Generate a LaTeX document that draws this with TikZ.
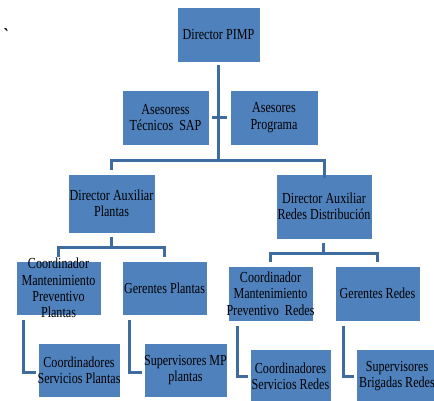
\documentclass[tikz,border=0pt]{standalone}
\usepackage{fontspec}
\setmainfont[FakeStretch=0.79]{Liberation Serif}
\definecolor{boxfill}{HTML}{4F81BD}
\definecolor{linecol}{HTML}{3E6C9E}
\begin{document}
\begin{tikzpicture}[x=1pt,y=-1pt,
  box/.style={rectangle, fill=boxfill, draw=white, line width=0.6pt, inner sep=0pt},
  txt/.style={align=center, inner sep=0pt, text=black, font=\fontsize{15.3}{16.3}\selectfont},
  conn/.style={draw=linecol, line width=3pt}]
\useasboundingbox (0,0) rectangle (434,400);
\begin{scope}
\clip (0,0) rectangle (434,400);
% boxes
\node[box, minimum width=83, minimum height=55] (dp) at (218.5,34.5) {};
\node[box, minimum width=87, minimum height=55] (ats) at (165.5,117.5) {};
\node[box, minimum width=88, minimum height=55] (ap) at (274,117.5) {};
\node[box, minimum width=87, minimum height=59] (dap) at (111.5,203.5) {};
\node[box, minimum width=96, minimum height=65] (dar) at (324,206.5) {};
\node[box, minimum width=85, minimum height=54] (cmpp) at (58.5,288) {};
\node[box, minimum width=85, minimum height=54] (gp) at (164.5,288) {};
\node[box, minimum width=85, minimum height=55] (cmpr) at (270.5,293.5) {};
\node[box, minimum width=85, minimum height=55] (gr) at (377.5,293.5) {};
\node[box, minimum width=82, minimum height=54] (csp) at (79,370) {};
\node[box, minimum width=83, minimum height=54] (smp) at (185.5,370) {};
\node[box, minimum width=81, minimum height=54] (csr) at (290.5,376) {};
\node[box, minimum width=82, minimum height=54] (sbr) at (397,376) {};
% texts
\node[txt] (dp-t) at (dp) {Director PIMP};
\node[txt] (ats-t) at (ats) {Asesoress\\Técnicos\ \ SAP};
\node[txt] (ap-t) at (ap) {Asesores\\Programa};
\node[txt] (dap-t) at (dap) {Director Auxiliar\\Plantas};
\node[txt] (dar-t) at (dar) {Director Auxiliar\\Redes Distribución};
\node[txt] (cmpp-t) at (cmpp) {Coordinador\\Mantenimiento\\Preventivo\\Plantas};
\node[txt] (gp-t) at (gp) {Gerentes Plantas};
\node[txt] (cmpr-t) at (cmpr) {Coordinador\\Mantenimiento\\Preventivo\ \ Redes};
\node[txt] (gr-t) at (gr) {Gerentes Redes};
\node[txt] (csp-t) at (csp) {Coordinadores\\Servicios Plantas};
\node[txt] (smp-t) at (smp) {Supervisores MP\\plantas};
\node[txt] (csr-t) at (csr) {Coordinadores\\Servicios Redes};
\node[txt] (sbr-t) at (sbr) {Supervisores\\Brigadas Redes};
\node[txt, font=\fontsize{20}{20}\selectfont\bfseries] (tick) at (7,36) {\textasciigrave};
% connectors
\coordinate (bus) at (218.5,160);
\draw[conn] ([yshift=-3]dp.south) -- (bus);
\draw[conn] ([xshift=3]ats.east) -- ([xshift=-3]ap.west);
\draw[conn] (dap.north) ++(0,-4) |- (bus) -| ([yshift=-4]dar.north);
\draw[conn] ([yshift=-4]dap.south) -- ++(0,10) coordinate (b1);
\draw[conn] ([yshift=4]cmpp.north) |- (b1) -| ([yshift=4]gp.north);
\draw[conn] ([xshift=-1,yshift=-4]dar.south) -- ++(0,10) coordinate (b2);
\draw[conn] ([yshift=4]cmpr.north) |- (b2) -| ([yshift=4]gr.north);
\draw[conn] ([xshift=8,yshift=-5]cmpp.south west) |- ([xshift=-2,yshift=-2]csp.west);
\draw[conn] ([xshift=8,yshift=-5]gp.south west) |- ([xshift=-2,yshift=-2]smp.west);
\draw[conn] ([xshift=10,yshift=-5]cmpr.south west) |- ([xshift=-2]csr.west);
\draw[conn] ([xshift=9,yshift=-5]gr.south west) |- ([xshift=-2]sbr.west);
\end{scope}
\end{tikzpicture}
\end{document}
